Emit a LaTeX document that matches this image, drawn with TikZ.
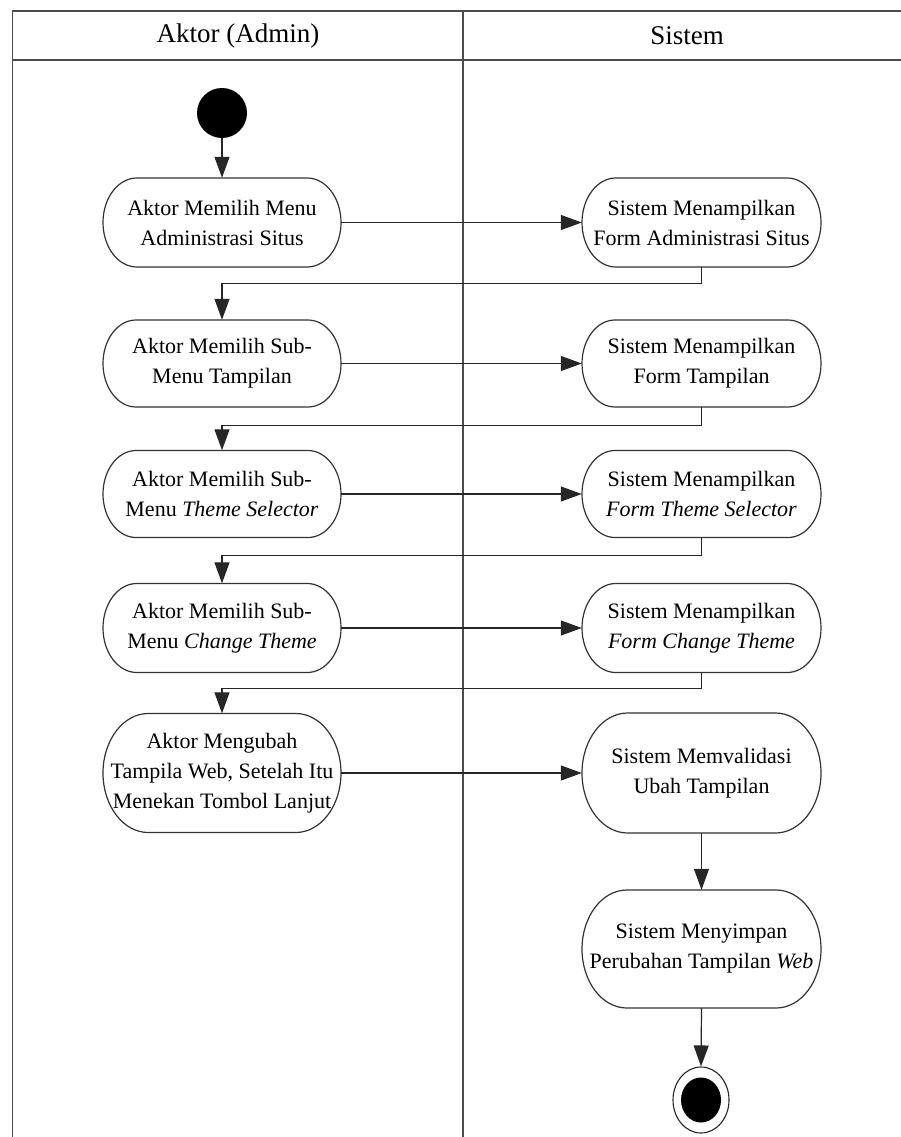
\documentclass[tikz,border=0pt]{standalone}
\usepackage{fontspec}
\setmainfont{Liberation Serif}
\usetikzlibrary{arrows.meta,shapes.geometric}
\newcommand\capsule[6]{%
  \node[capnode, minimum width=#4pt, minimum height=#5pt] (#1) at (#2,-#3) {#6};
  \draw[capline] (#2-#4/2+#5*0.38, -#3+#5/2) -- (#2+#4/2-#5*0.38,-#3+#5/2)
    arc[start angle=90,end angle=-90,x radius=#5*0.38,y radius=#5/2]
    -- (#2-#4/2+#5*0.38,-#3-#5/2)
    arc[start angle=270,end angle=90,x radius=#5*0.38,y radius=#5/2] -- cycle;
}
\tikzset{
  capnode/.style={draw=none, inner sep=0pt, align=center, font=\fontsize{22}{30}\selectfont},
  capline/.style={draw=black!80, line width=1.2pt},
  frame/.style={draw=black!70, line width=1.4pt},
  flow/.style={draw=black!85, line width=1.2pt, -{Triangle[length=21pt,width=15pt]}},
  head/.style={font=\fontsize{27}{32}\selectfont, inner sep=0pt},
  startnode/.style={circle, fill=black, draw=none, minimum size=50pt, inner sep=0pt},
  endouter/.style={ellipse, draw=black!85, line width=1.1pt, minimum width=56pt, minimum height=66pt, inner sep=0pt},
  endinner/.style={ellipse, fill=black, draw=none, minimum width=40pt, minimum height=45pt, inner sep=0pt}
}
\begin{document}
\begin{tikzpicture}[x=1pt,y=1pt]
\useasboundingbox (0,0) rectangle (901,-1137);
\fill[white] (0,0) rectangle (901,-1137);
% swimlane frame
\draw[frame] (901,-11) -- (12.6,-11) -- (12.6,-1137);
\draw[frame] (12.6,-60) -- (901,-60);
\draw[frame] (463,-11) -- (463,-1137);
\node[head] (h1) at (238,-36) {Aktor (Admin)};
\node[head] (h2) at (687,-36) {Sistem};
% start
\node[startnode] (st) at (222,-113) {};
% actor activities
\capsule{b1}{222}{222.5}{238}{89}{Aktor Memilih Menu\\Administrasi Situs}
\capsule{b2}{222}{363.5}{238}{87}{Aktor Memilih Sub-\\Menu Tampilan}
\capsule{b3}{222}{494}{238}{87}{Aktor Memilih Sub-\\Menu \textit{Theme Selector}}
\capsule{b4}{222}{628}{238}{89}{Aktor Memilih Sub-\\Menu \textit{Change Theme}}
\capsule{b5}{222}{773}{238}{119}{Aktor Mengubah\\Tampila Web, Setelah Itu\\Menekan Tombol Lanjut}
% system activities
\capsule{s1}{701.5}{222.5}{239}{89}{Sistem Menampilkan\\Form Administrasi Situs}
\capsule{s2}{701.5}{363.5}{239}{87}{Sistem Menampilkan\\Form Tampilan}
\capsule{s3}{701.5}{494}{239}{87}{Sistem Menampilkan\\\textit{Form Theme Selector}}
\capsule{s4}{701.5}{628}{239}{89}{Sistem Menampilkan\\\textit{Form Change Theme}}
\capsule{s5}{701.5}{773}{239}{120}{Sistem Memvalidasi\\Ubah Tampilan}
\capsule{s6}{701.5}{949}{239}{118}{Sistem Menyimpan\\Perubahan Tampilan \textit{Web}}
% end
\node[endouter] (en) at (701,-1100) {};
\node[endinner] (eni) at (701,-1100) {};
% connectors
\draw[flow] (st) -- (b1.north);
\draw[flow] (b1.east) -- (s1.west);
\draw[flow] (s1.south) -- ++(0,-16) -| (b2.north);
\draw[flow] (b2.east) -- (s2.west);
\draw[flow] (s2.south) -- ++(0,-18) -| (b3.north);
\draw[flow] (b3.east) -- (s3.west);
\draw[flow] (s3.south) -- ++(0,-18) -| (b4.north);
\draw[flow] (b4.east) -- (s4.west);
\draw[flow] (s4.south) -- ++(0,-16) -| (b5.north);
\draw[flow] (b5.east) -- (s5.west);
\draw[flow] (s5.south) -- (s6.north);
\draw[flow] (s6.south) -- (en.north);
\end{tikzpicture}
\end{document}
